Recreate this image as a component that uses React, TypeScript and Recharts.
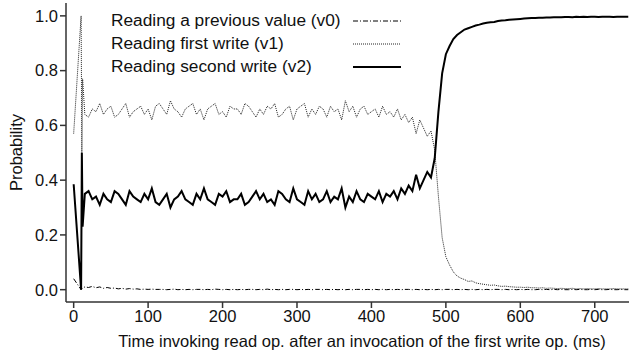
import { LineChart, Line, XAxis, YAxis, Legend, Label } from "recharts";

// ── data ──────────────────────────────────────────────────────────────────

// time since the first write was invoked (ms)
const TIMES = [
  0, 10, 11, 12, 15,
  20, 25, 30, 35, 40, 45, 50, 55, 60, 65,
  70, 75, 80, 85, 90, 95, 100, 105, 110, 115,
  120, 125, 130, 135, 140, 145, 150, 155, 160, 165,
  170, 175, 180, 185, 190, 195, 200, 205, 210, 215,
  220, 225, 230, 235, 240, 245, 250, 255, 260, 265,
  270, 275, 280, 285, 290, 295, 300, 305, 310, 315,
  320, 325, 330, 335, 340, 345, 350, 355, 360, 365,
  370, 375, 380, 385, 390, 395, 400, 405, 410, 415,
  420, 425, 430, 435, 440, 445, 450, 455, 460, 465,
  470, 475, 480, 485, 490, 495, 500, 505, 510, 515,
  520, 525, 530, 535, 540, 545, 550, 555, 560, 565,
  570, 575, 580, 585, 590, 595, 600, 605, 610, 615,
  620, 625, 630, 635, 640, 645, 650, 655, 660, 665,
  670, 675, 680, 685, 690, 695, 700, 705, 710, 715,
  720, 725, 730, 735, 740, 745,
];

// reading a previous value
const V0 = [
  0.04, 0, 0.003, 0.006, 0.01,
  0.008, 0.012, 0.007, 0.01, 0.005, 0.008, 0.005, 0.006, 0.003, 0.005,
  0.002, 0.004, 0.002, 0.003, 0.001, 0.002, 0.001, 0.002, 0.001, 0.001,
  0.001, 0, 0.001, 0.002, 0, 0.001, 0, 0.001, 0, 0.001,
  0.001, 0, 0.001, 0, 0.002, 0.001, 0, 0.001, 0, 0.001,
  0, 0.001, 0, 0.001, 0.001, 0, 0.001, 0, 0.002, 0,
  0.001, 0, 0.001, 0, 0.001, 0.001, 0, 0.001, 0, 0.001,
  0, 0.001, 0.001, 0, 0.001, 0, 0.001, 0, 0.001, 0,
  0.001, 0, 0.001, 0.001, 0, 0.001, 0, 0.001, 0, 0.001,
  0, 0.001, 0, 0.001, 0, 0.001, 0.001, 0, 0.001, 0,
  0.001, 0, 0.001, 0, 0.001, 0, 0.001, 0.001, 0, 0.001,
  0, 0.001, 0, 0.001, 0, 0.001, 0, 0.001, 0, 0.001,
  0.001, 0, 0.001, 0, 0.001, 0, 0.001, 0, 0.001, 0,
  0, 0.001, 0, 0.001, 0, 0.001, 0, 0.001, 0, 0,
  0.001, 0, 0.001, 0, 0, 0.001, 0, 0.001, 0, 0,
  0.001, 0, 0, 0.001, 0, 0,
];

// reading the first write
const V1 = [
  0.57, 1.0, 0.5, 0.77, 0.64,
  0.63, 0.66, 0.65, 0.68, 0.64, 0.66, 0.67, 0.63, 0.64, 0.66,
  0.68, 0.63, 0.65, 0.66, 0.67, 0.64, 0.66, 0.62, 0.67, 0.68,
  0.66, 0.64, 0.69, 0.66, 0.65, 0.63, 0.66, 0.67, 0.68, 0.64,
  0.66, 0.62, 0.66, 0.67, 0.68, 0.64, 0.65, 0.63, 0.67, 0.66,
  0.66, 0.64, 0.68, 0.67, 0.65, 0.63, 0.66, 0.64, 0.67, 0.66,
  0.68, 0.63, 0.64, 0.66, 0.67, 0.62, 0.66, 0.67, 0.68, 0.63,
  0.66, 0.64, 0.67, 0.66, 0.63, 0.67, 0.65, 0.66, 0.62, 0.69,
  0.65, 0.67, 0.63, 0.66, 0.67, 0.64, 0.65, 0.66, 0.63, 0.67,
  0.64, 0.65, 0.63, 0.66, 0.62, 0.64, 0.61, 0.63, 0.57, 0.62,
  0.59, 0.56, 0.58, 0.51, 0.34, 0.19, 0.12, 0.09, 0.065, 0.05,
  0.042, 0.037, 0.03, 0.032, 0.025, 0.022, 0.02, 0.018, 0.016, 0.017,
  0.014, 0.012, 0.013, 0.011, 0.01, 0.009, 0.009, 0.008, 0.009, 0.007,
  0.007, 0.006, 0.007, 0.005, 0.006, 0.005, 0.004, 0.005, 0.004, 0.004,
  0.005, 0.003, 0.004, 0.003, 0.004, 0.003, 0.003, 0.004, 0.003, 0.003,
  0.003, 0.004, 0.003, 0.003, 0.003, 0.003,
];

// reading the second write
const V2 = [
  0.385, 0, 0.5, 0.23, 0.35,
  0.36, 0.33, 0.34, 0.31, 0.35, 0.33, 0.32, 0.36, 0.35, 0.33,
  0.31, 0.36, 0.34, 0.33, 0.32, 0.35, 0.33, 0.37, 0.32, 0.31,
  0.33, 0.35, 0.30, 0.33, 0.34, 0.36, 0.33, 0.32, 0.31, 0.35,
  0.33, 0.37, 0.33, 0.32, 0.31, 0.35, 0.34, 0.36, 0.32, 0.33,
  0.33, 0.35, 0.31, 0.32, 0.34, 0.36, 0.33, 0.35, 0.32, 0.33,
  0.31, 0.36, 0.35, 0.33, 0.32, 0.37, 0.33, 0.32, 0.31, 0.36,
  0.33, 0.35, 0.32, 0.33, 0.36, 0.32, 0.34, 0.33, 0.37, 0.30,
  0.34, 0.32, 0.36, 0.33, 0.32, 0.35, 0.34, 0.33, 0.36, 0.32,
  0.35, 0.34, 0.36, 0.33, 0.37, 0.35, 0.38, 0.36, 0.42, 0.37,
  0.40, 0.43, 0.41, 0.48, 0.65, 0.79, 0.86, 0.89, 0.915, 0.93,
  0.94, 0.95, 0.955, 0.96, 0.965, 0.968, 0.972, 0.975, 0.977, 0.978,
  0.981, 0.983, 0.984, 0.986, 0.987, 0.988, 0.989, 0.99, 0.991, 0.992,
  0.992, 0.993, 0.993, 0.994, 0.994, 0.995, 0.995, 0.995, 0.996, 0.996,
  0.995, 0.997, 0.996, 0.997, 0.996, 0.997, 0.997, 0.996, 0.997, 0.997,
  0.997, 0.996, 0.997, 0.997, 0.997, 0.997,
];

const X_TICKS = [0, 100, 200, 300, 400, 500, 600, 700];
const Y_TICKS = [0, 0.2, 0.4, 0.6, 0.8, 1.0];

const SERIES = [
  { key: "v0", name: "Reading a previous value (v0)", dash: "5 2 1 2", width: 1, color: "#000" },
  { key: "v1", name: "Reading first write (v1)", dash: "1 1", width: 1, color: "#222" },
  { key: "v2", name: "Reading second write (v2)", dash: undefined, width: 2, color: "#000" },
];

const rows = TIMES.map((t, i) => ({ t, v0: V0[i], v1: V1[i], v2: V2[i] }));

// ── theme ─────────────────────────────────────────────────────────────────

const FONT = '"Liberation Sans", Arial, Helvetica, sans-serif';
const AXIS_COLOR = "#333";
const TICK_STYLE = { fill: "#111", fontSize: 16.5, fontFamily: FONT };

function LegendBox() {
  return (
    <div style={{ fontFamily: FONT, fontSize: 17.3, color: "#111" }}>
      {SERIES.map((s) => (
        <div key={s.key} style={{ display: "flex", alignItems: "center", height: 23 }}>
          <span style={{ width: 242, whiteSpace: "nowrap" }}>{s.name}</span>
          <svg width={48} height={10}>
            <line
              x1={0}
              y1={5}
              x2={48}
              y2={5}
              stroke={s.color}
              strokeWidth={s.key === "v2" ? 2 : 1}
              strokeDasharray={s.dash}
            />
          </svg>
        </div>
      ))}
    </div>
  );
}

export default function App() {
  return (
    <div style={{ position: "absolute", left: 0, top: 0, background: "#fff" }}>
      <LineChart width={629} height={356} data={rows} margin={{ top: 3, right: 0, left: 0, bottom: 0 }}>
        <XAxis
          dataKey="t"
          type="number"
          domain={[-10.3, 746]}
          allowDataOverflow
          ticks={X_TICKS}
          tick={TICK_STYLE}
          tickSize={6}
          height={54}
          stroke={AXIS_COLOR}
          strokeWidth={1.5}
        >
          <Label
            content={() => (
              <text x={362} y={347} textAnchor="middle" fontFamily={FONT} fontSize={16.5} fill="#111">
                Time invoking read op. after an invocation of the first write op. (ms)
              </text>
            )}
          />
        </XAxis>
        <XAxis
          xAxisId="top"
          orientation="top"
          dataKey="t"
          type="number"
          domain={[-10.3, 746]}
          allowDataOverflow
          tick={false}
          tickLine={false}
          height={0}
          stroke={AXIS_COLOR}
          strokeWidth={1.5}
        />
        <YAxis
          type="number"
          domain={[-0.045, 1.047]}
          allowDataOverflow
          ticks={Y_TICKS}
          tickFormatter={(v: number) => v.toFixed(1)}
          tick={TICK_STYLE}
          tickSize={6}
          width={66}
          stroke={AXIS_COLOR}
          strokeWidth={1.5}
        >
          <Label
            content={() => (
              <text
                x={22}
                y={152.5}
                transform="rotate(-90 22 152.5)"
                textAnchor="middle"
                fontFamily={FONT}
                fontSize={16.5}
                fill="#111"
              >
                Probability
              </text>
            )}
          />
        </YAxis>
        <Legend
          layout="vertical"
          align="center"
          verticalAlign="middle"
          content={<LegendBox />}
          wrapperStyle={{ position: "absolute", top: 9, left: 111, width: 300, height: 70 }}
        />
        {SERIES.map((s) => (
          <Line
            key={s.key}
            dataKey={s.key}
            name={s.name}
            type="linear"
            stroke={s.color}
            strokeWidth={s.width}
            strokeDasharray={s.dash}
            dot={false}
            activeDot={false}
            isAnimationActive={false}
          />
        ))}
      </LineChart>
    </div>
  );
}
